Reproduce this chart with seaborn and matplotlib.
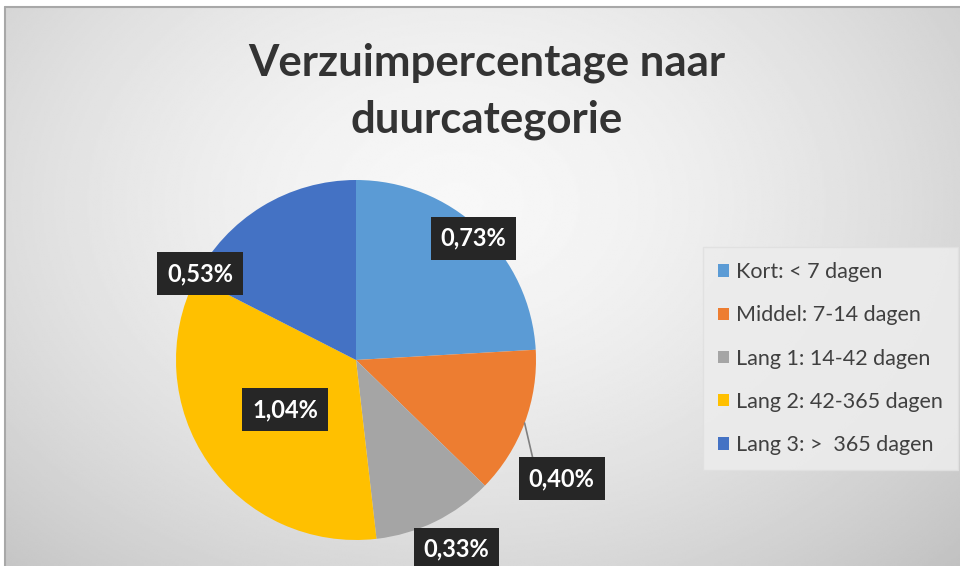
import numpy as np
import matplotlib
matplotlib.use("Agg")
import matplotlib.pyplot as plt
import seaborn as sns

# data
categories = ["Kort: < 7 dagen", "Middel: 7-14 dagen", "Lang 1: 14-42 dagen",
              "Lang 2: 42-365 dagen", "Lang 3: >  365 dagen"]
values = [0.73, 0.40, 0.33, 1.04, 0.53]
value_labels = ["0,73%", "0,40%", "0,33%", "1,04%", "0,53%"]
title = "Verzuimpercentage naar\nduurcategorie"

colors = ["#5B9BD5", "#ED7D31", "#A5A5A5", "#FFC000", "#4472C4"]
# label placement: (degrees clockwise from top, distance in radii)
label_pos = [(44, 0.94), (120, 1.32), (152, 1.19), (235, 0.48), (299, 0.99)]

sns.set_style("white")
plt.rcParams["font.family"] = ["Lato", "DejaVu Sans"]

W, H = 960, 566
fig = plt.figure(figsize=(W / 100, H / 100), dpi=100)
fig.patch.set_facecolor("white")

# gradient background (chart area)
bg = fig.add_axes([5 / W, 0, 1, 1 - 7 / H])
yy, xx = np.mgrid[0:1:300j, 0:1:500j]
d = np.sqrt(((xx - 0.47) / 0.75) ** 2 + ((yy - 0.35) / 0.95) ** 2)
shade = 0.97 - 0.22 * np.clip(d, 0, 1) ** 1.6
bg.imshow(shade, cmap="gray", vmin=0, vmax=1, aspect="auto", extent=[0, 1, 0, 1],
          interpolation="bilinear")
bg.set_xlim(0, 1)
bg.set_ylim(0, 1)
bg.axis("off")
fig.add_artist(plt.Line2D([5 / W, 5 / W], [0, 1 - 7 / H], color="#a8a8a8", lw=1.5,
                          transform=fig.transFigure))
fig.add_artist(plt.Line2D([5 / W, 1], [1 - 7 / H, 1 - 7 / H], color="#a8a8a8", lw=1.5,
                          transform=fig.transFigure))

fig.text(0.507, 0.838, title, ha="center", va="center", fontsize=31.5,
         fontweight="bold", color="#333333", linespacing=1.5)

# pie
cx, cy, r = 356, 360, 180
ax = fig.add_axes([(cx - r) / W, (H - cy - r) / H, 2 * r / W, 2 * r / H])
wedges, _ = ax.pie(values, colors=colors, startangle=90, counterclock=False,
                   radius=1, wedgeprops=dict(linewidth=0))
ax.set_xlim(-1, 1)
ax.set_ylim(-1, 1)
ax.set_aspect("equal")
ax.axis("off")

for i, (w, lab) in enumerate(zip(wedges, value_labels)):
    ang, dist = label_pos[i]
    lx = dist * np.sin(np.radians(ang))
    ly = dist * np.cos(np.radians(ang))
    if i == 1:
        mid = np.radians((w.theta1 + w.theta2) / 2)
        ax.plot([np.cos(mid), lx - 0.16], [np.sin(mid), ly + 0.11],
                color="#808080", lw=1.2, clip_on=False, zorder=3)
    ax.text(lx, ly, lab, ha="center", va="center", fontsize=17, fontweight="bold",
            color="white", zorder=5, clip_on=False,
            bbox=dict(boxstyle="square,pad=0.42", fc="#262626", ec="none"))

leg = fig.legend(wedges, categories, loc="upper left",
                 bbox_to_anchor=(703 / W, 1 - 247 / H), bbox_transform=fig.transFigure,
                 borderaxespad=0, fontsize=15.5, labelspacing=1.08,
                 handlelength=0.5, handleheight=0.5, handletextpad=0.35,
                 borderpad=0.7, frameon=True, fancybox=False)
leg.get_frame().set_facecolor("#ececec")
leg.get_frame().set_edgecolor("#e0e0e0")
leg.get_frame().set_alpha(0.9)
for t in leg.get_texts():
    t.set_color("#404040")

fig.savefig("out.png", dpi=100)
